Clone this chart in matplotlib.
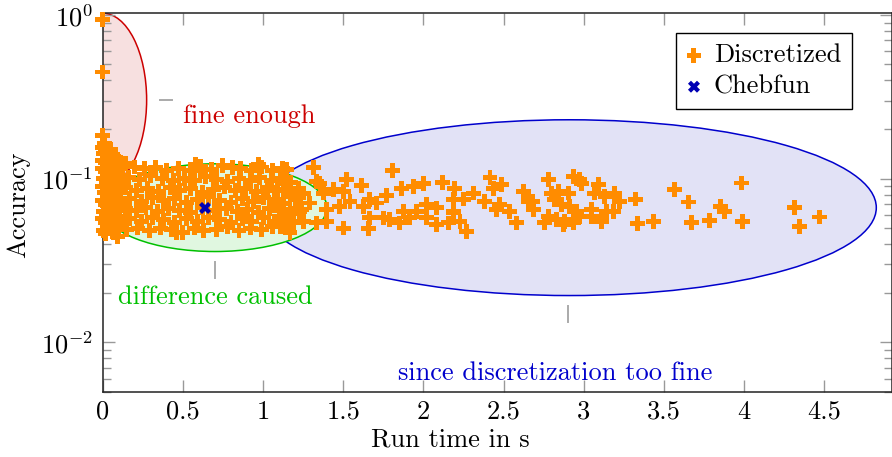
import numpy as np
import matplotlib
matplotlib.use('Agg')
import matplotlib.pyplot as plt
from matplotlib.patches import Ellipse
from matplotlib.ticker import FuncFormatter, LogLocator, NullFormatter, FixedLocator

# ---------------- data ----------------
# near-zero run times (left column)
left_x = [0.0, 0.0, 0.0, 0.01, 0.0, 0.02, 0.005, 0.03, 0.0, 0.015, 0.035, 0.0, 0.02, 0.04, 0.005,
          0.025, 0.0, 0.03, 0.01, 0.04, 0.0, 0.02, 0.035, 0.005, 0.025, 0.0, 0.015, 0.03, 0.005, 0.02,
          0.05, 0.06, 0.08, 0.1, 0.12, 0.055, 0.075, 0.095, 0.115, 0.06, 0.085, 0.105, 0.065, 0.09, 0.11,
          0.055, 0.075, 0.1, 0.12, 0.06, 0.085, 0.105, 0.07, 0.095, 0.115, 0.06, 0.08, 0.1, 0.07, 0.09]
left_y = [0.945, 0.449, 0.185, 0.165, 0.155, 0.15, 0.142, 0.138, 0.13, 0.125, 0.12, 0.115, 0.11, 0.105, 0.1,
          0.096, 0.09, 0.087, 0.082, 0.078, 0.074, 0.07, 0.067, 0.063, 0.06, 0.057, 0.054, 0.051, 0.048, 0.046,
          0.15, 0.14, 0.135, 0.128, 0.122, 0.125, 0.118, 0.112, 0.105, 0.108, 0.1, 0.095, 0.093, 0.088, 0.083,
          0.085, 0.079, 0.075, 0.071, 0.072, 0.067, 0.064, 0.061, 0.058, 0.055, 0.056, 0.052, 0.049, 0.047, 0.0445]

# dense band 0.13 .. 1.25 s
band_x = [0.14, 0.2, 0.26, 0.33, 0.4, 0.47, 0.55, 0.61, 0.68, 0.75, 0.81, 0.86, 0.93, 0.99, 1.06, 1.12, 0.58, 0.97,
          0.16, 0.23, 0.3, 0.37, 0.44, 0.51, 0.57, 0.64, 0.71, 0.78, 0.85, 0.92, 0.98, 1.05, 1.11, 1.17,
          0.14, 0.21, 0.28, 0.35, 0.42, 0.48, 0.55, 0.62, 0.69, 0.76, 0.83, 0.89, 0.96, 1.03, 1.09, 1.16, 1.22,
          0.17, 0.24, 0.31, 0.38, 0.45, 0.52, 0.59, 0.66, 0.73, 0.8, 0.87, 0.94, 1.0, 1.07, 1.13, 1.2,
          0.14, 0.21, 0.27, 0.34, 0.41, 0.48, 0.55, 0.62, 0.7, 0.77, 0.84, 0.9, 0.97, 1.04, 1.1, 1.17, 1.24,
          0.17, 0.24, 0.31, 0.38, 0.45, 0.52, 0.59, 0.66, 0.73, 0.8, 0.87, 0.93, 1.0, 1.07, 1.13, 1.19,
          0.15, 0.22, 0.29, 0.36, 0.43, 0.5, 0.57, 0.63, 0.71, 0.78, 0.85, 0.92, 0.99, 1.06, 1.14, 0.46, 0.09]
band_y = [0.124, 0.118, 0.115, 0.117, 0.113, 0.116, 0.112, 0.119, 0.114, 0.12, 0.117, 0.115, 0.112, 0.118, 0.113, 0.116, 0.123, 0.122,
          0.102, 0.099, 0.104, 0.1, 0.097, 0.101, 0.098, 0.103, 0.099, 0.096, 0.101, 0.098, 0.102, 0.097, 0.1, 0.095,
          0.088, 0.085, 0.087, 0.084, 0.088, 0.085, 0.087, 0.083, 0.086, 0.089, 0.085, 0.087, 0.084, 0.088, 0.085, 0.083, 0.087,
          0.076, 0.073, 0.077, 0.074, 0.076, 0.072, 0.075, 0.078, 0.074, 0.072, 0.076, 0.073, 0.077, 0.074, 0.071, 0.075,
          0.066, 0.064, 0.067, 0.063, 0.066, 0.064, 0.062, 0.067, 0.064, 0.066, 0.063, 0.065, 0.062, 0.066, 0.064, 0.061, 0.065,
          0.057, 0.055, 0.058, 0.056, 0.054, 0.057, 0.055, 0.058, 0.056, 0.054, 0.057, 0.055, 0.058, 0.055, 0.057, 0.054,
          0.049, 0.05, 0.048, 0.05, 0.049, 0.047, 0.05, 0.048, 0.049, 0.051, 0.048, 0.05, 0.049, 0.051, 0.05, 0.0469, 0.0443]

# 1.1 .. 2 s
mid_x = [1.147, 1.313, 1.808, 1.521, 1.615, 1.334, 1.355, 1.771, 1.864, 1.936, 1.5, 1.438, 1.375, 1.666,
         1.708, 1.625, 1.542, 1.479, 1.397, 1.666, 1.5, 1.656, 1.749, 1.791, 1.853, 1.916, 1.958, 1.874,
         1.168, 1.106, 1.251, 1.334, 1.397, 1.23, 1.168, 1.292, 1.209, 1.126, 1.085, 1.137, 1.251]
mid_y = [0.1135, 0.1178, 0.1119, 0.0986, 0.0906, 0.0964, 0.0941, 0.0788, 0.0877, 0.0897, 0.0837, 0.0857, 0.0818, 0.0745,
         0.0711, 0.0678, 0.0727, 0.0678, 0.0647, 0.0576, 0.05, 0.0494, 0.0576, 0.0562, 0.0537, 0.0576, 0.0632, 0.0632,
         0.0467, 0.0512, 0.0549, 0.0537, 0.0549, 0.0632, 0.0647, 0.0711, 0.078, 0.0857, 0.0745, 0.0941, 0.0818]

# 2 .. 2.7 s
mid2_x = [1.999, 2.117, 2.415, 2.488, 2.435, 2.196, 2.622, 2.31, 2.248, 2.186, 2.383, 2.477, 2.653,
          2.539, 2.456, 2.186, 2.082, 2.02, 2.02, 2.082, 2.155, 2.228, 2.269, 2.186, 2.581]
mid2_y = [0.0941, 0.0949, 0.1024, 0.0919, 0.0877, 0.0877, 0.0837, 0.0818, 0.0752, 0.0752, 0.0727, 0.0694, 0.0727,
          0.0632, 0.0647, 0.0632, 0.0663, 0.0694, 0.0576, 0.0525, 0.0537, 0.0549, 0.0477, 0.0618, 0.0537]

# cluster around 2.7 .. 3.25 s
curl_x = [2.782, 2.934, 2.976, 2.986, 3.09, 3.069, 3.132, 3.194, 3.225, 2.681, 2.685, 2.799, 2.84, 2.903,
          2.82, 2.862, 2.913, 2.955, 2.976, 2.934, 2.882, 2.83, 2.778, 2.757, 2.872, 2.934, 3.049, 3.049,
          3.142, 3.183, 3.111]
curl_y = [0.0986, 0.1033, 0.0986, 0.0941, 0.0919, 0.0818, 0.078, 0.0818, 0.0727, 0.0727, 0.0647, 0.0818, 0.0837, 0.0818,
          0.0745, 0.0694, 0.0678, 0.0632, 0.0589, 0.0562, 0.0549, 0.0562, 0.0589, 0.0537, 0.0525, 0.0537, 0.0647, 0.0589,
          0.0632, 0.0632, 0.0549]

# sparse tail
tail_x = [3.325, 3.333, 3.437, 3.568, 3.655, 3.672, 3.786, 3.854, 3.879, 3.984, 3.99, 4.316, 4.343, 4.472]
tail_y = [0.0752, 0.053, 0.0545, 0.0857, 0.0721, 0.0542, 0.0557, 0.0678, 0.0632, 0.0942, 0.0549, 0.0668, 0.0512, 0.0584]

disc_x = left_x + band_x + mid_x + mid2_x + curl_x + tail_x
disc_y = left_y + band_y + mid_y + mid2_y + curl_y + tail_y

cheb_x = [0.638]
cheb_y = [0.0663]

# annotation ellipses: centre x, centre y, half width (s), half height (decades)
ell_names = ['blue', 'green', 'red']
ell_cx = [2.91, 0.70, 0.0]
ell_cy = [0.0666, 0.0666, 0.303]
ell_rx = [1.914, 0.698, 0.274]
ell_rdec = [0.537, 0.268, 0.53]

x_ticks = [0, 0.5, 1, 1.5, 2, 2.5, 3, 3.5, 4, 4.5]

# ---------------- style ----------------
plt.rcParams['font.family'] = ['cmr10', 'DejaVu Serif']
plt.rcParams['mathtext.fontset'] = 'cm'
plt.rcParams['mathtext.default'] = 'rm'
plt.rcParams['axes.formatter.use_mathtext'] = True
FS = 19
ORANGE = '#ff8c00'
W, H = 892, 457

fig = plt.figure(figsize=(W / 100, H / 100), dpi=100)
ax = fig.add_axes([102.7 / W, 1 - 391.7 / H, 789 / W, 378.7 / H])
XMIN, XMAX = 0.0, 4.92
YMIN, YMAX = 0.005, 1.03
ax.set_xlim(XMIN, XMAX)
ax.set_yscale('log')
ax.set_ylim(YMIN, YMAX)

LX = XMAX - XMIN
LD = np.log10(YMAX) - np.log10(YMIN)

fills = {'blue': ('#e2e2f6', '#0000cc'), 'green': ('#e0f7e0', '#00c000'), 'red': ('#f7e0e0', '#cc0000')}
for i, n in enumerate(ell_names):
    ax_x = (ell_cx[i] - XMIN) / LX
    ax_y = (np.log10(ell_cy[i]) - np.log10(YMIN)) / LD
    fc, ec = fills[n]
    e = Ellipse((ax_x, ax_y), 2 * ell_rx[i] / LX, 2 * ell_rdec[i] / LD, transform=ax.transAxes,
                facecolor=fc, edgecolor=ec, lw=1.1, zorder=1 + 0.1 * i)
    ax.add_patch(e)

sc = ax.scatter(disc_x, disc_y, marker='P', s=115, c=ORANGE, edgecolors='none', zorder=3, clip_on=False)
ch = ax.scatter(cheb_x, cheb_y, marker='X', s=75, c='#0000b4', edgecolors='none', zorder=4)

# pins and labels
PIN = '#aaaaaa'
ax.plot([0.358, 0.432], [0.303, 0.303], color=PIN, lw=1.4, zorder=2)
ax.plot([0.70, 0.70], [0.0312, 0.0246], color=PIN, lw=1.4, zorder=2)
ax.plot([2.90, 2.90], [0.0168, 0.01324], color=PIN, lw=1.4, zorder=2)
ax.text(0.913, 0.242, 'fine enough', color='#cc0000', fontsize=FS, ha='center', va='center')
ax.text(0.70, 0.0188, 'difference caused', color='#00c000', fontsize=FS, ha='center', va='center')
ax.text(2.82, 0.00647, 'since discretization too fine', color='#0000cc', fontsize=FS, ha='center', va='center')

# axes styling
ax.xaxis.set_major_locator(FixedLocator(x_ticks))
ax.xaxis.set_major_formatter(FuncFormatter(lambda v, p: '%g' % v))
ax.yaxis.set_major_locator(LogLocator(base=10))
ax.yaxis.set_minor_locator(LogLocator(base=10, subs=np.arange(2, 10)))
ax.yaxis.set_minor_formatter(NullFormatter())
ax.tick_params(which='both', direction='in', top=True, right=True, color='#999999', width=1.0,
               labelsize=FS, labelcolor='black')
ax.tick_params(which='major', length=8.5)
ax.tick_params(which='minor', length=6)
ax.tick_params(axis='x', pad=6)
ax.tick_params(axis='y', pad=7)
for s in ax.spines.values():
    s.set_color('#222222')
    s.set_linewidth(1.1)

fig.text(450 / W, 1 - 440 / H, 'Run time in s', fontsize=FS, ha='center', va='center')
fig.text(18 / W, 1 - 205 / H, 'Accuracy', fontsize=FS, ha='center', va='center', rotation=90)

leg = ax.legend([sc, ch], ['Discretized', 'Chebfun'], loc='upper right',
                bbox_to_anchor=((851.7 - 102.7) / 789, (391.7 - 32.7) / 378.7),
                frameon=True, fancybox=False, edgecolor='black', framealpha=1, fontsize=FS,
                handlelength=0.6, handletextpad=0.45, borderpad=0.4, labelspacing=0.3,
                borderaxespad=0, scatterpoints=1)
leg.get_frame().set_linewidth(1.0)
leg.set_zorder(10)

fig.savefig('out.png', dpi=100)
